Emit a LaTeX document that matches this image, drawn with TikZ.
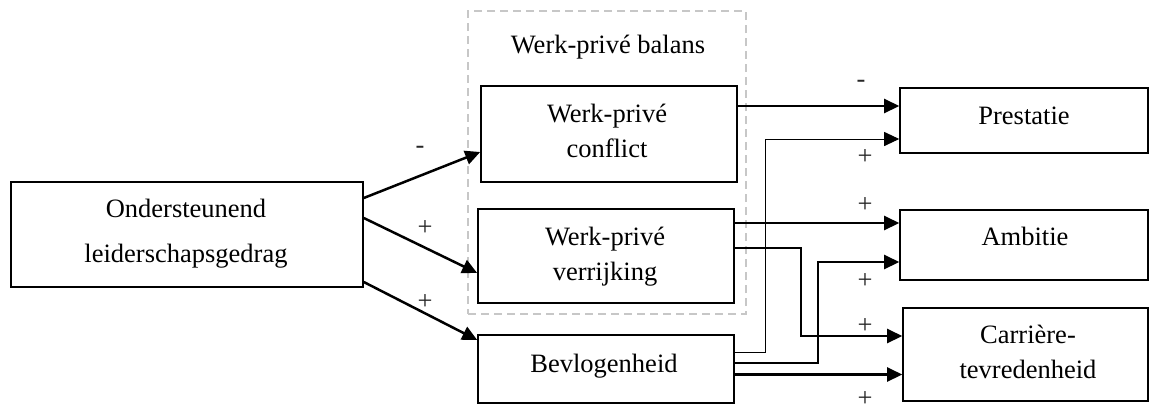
\documentclass[tikz,border=0pt]{standalone}
\usepackage{fontspec}
\setmainfont{Liberation Serif}
\usetikzlibrary{arrows.meta}
\begin{document}
\begin{tikzpicture}[x=1pt,y=-1pt,
  box/.style={draw=black, line width=1.6pt, rectangle, inner sep=0pt},
  txt/.style={anchor=base, inner sep=0pt, font=\fontsize{26.5}{35}\selectfont},
  sgn/.style={anchor=base, inner sep=0pt, text=black!85, font=\fontsize{26.5}{35}\selectfont},
  con/.style={line width=2.5pt, -{Triangle[length=15pt,width=14pt]}},
  thincon/.style={line width=1pt, -{Triangle[length=15pt,width=14pt]}},
  group/.style={draw=black!22, line width=1.5pt, dash pattern=on 8pt off 5pt, rectangle, inner sep=0pt}
]
\useasboundingbox (0,0) rectangle (1149,410);

% group
\node[group, minimum width=278pt, minimum height=303pt] (wpb) at (607,162.5) {};
\node[txt] (wpbt) at (608,53) {Werk-privé balans};

% boxes
\node[box, minimum width=352pt, minimum height=105pt] (lead) at (187,234.5) {};
\node[box, minimum width=256pt, minimum height=96pt] (conf) at (609,134) {};
\node[box, minimum width=256pt, minimum height=94pt] (verr) at (606,256) {};
\node[box, minimum width=256pt, minimum height=68pt] (bevl) at (606,369) {};
\node[box, minimum width=248pt, minimum height=65pt] (pres) at (1024,120.5) {};
\node[box, minimum width=248pt, minimum height=70pt] (ambi) at (1024,245) {};
\node[box, minimum width=245pt, minimum height=93pt] (carr) at (1025.5,354.5) {};

% texts
\node[txt] (lead1) at (186,217) {Ondersteunend};
\node[txt] (lead2) at (186,262) {leiderschapsgedrag};
\node[txt] (conf1) at (607,122) {Werk-privé};
\node[txt] (conf2) at (607,157) {conflict};
\node[txt] (verr1) at (605,245) {Werk-privé};
\node[txt] (verr2) at (605,280) {verrijking};
\node[txt] (bevl1) at (604,372) {Bevlogenheid};
\node[txt] (pres1) at (1024,124) {Prestatie};
\node[txt] (ambi1) at (1025,245) {Ambitie};
\node[txt] (carr1) at (1028,343) {Carrière-};
\node[txt] (carr2) at (1028,378) {tevredenheid};

% left connectors
\draw[con] ([yshift=36.5pt]lead.east) -- ([yshift=-18pt]conf.west);
\draw[con] ([yshift=16.5pt]lead.east) -- ([yshift=-17pt]verr.west);
\draw[con] ([yshift=-47.5pt]lead.east) -- ([yshift=29pt]bevl.west);

% right connectors
\draw[con] ([yshift=28pt]conf.east) -- ([yshift=28pt]conf.east -| pres.west);
\draw[thincon] ([yshift=17pt]bevl.east) -- ++(31,0) |- ([yshift=-18.5pt]pres.west);
\draw[con] ([yshift=33pt]verr.east) -- ([yshift=33pt]verr.east -| ambi.west);
\draw[con] ([yshift=8pt]verr.east) -- ++(66,0) |- ([yshift=18.5pt]carr.west);
\draw[con] ([yshift=6pt]bevl.east) -- ++(83,0) |- ([yshift=-17pt]ambi.west);
\draw[con] ([yshift=-5.5pt]bevl.east) -- ([yshift=-5.5pt]bevl.east -| carr.west);

% signs
\node[sgn] (s1) at (420,153) {-};
\node[sgn] (s2) at (425,235) {+};
\node[sgn] (s3) at (425,309) {+};
\node[sgn] (s4) at (861,87) {-};
\node[sgn] (s5) at (865,164) {+};
\node[sgn] (s6) at (865,212) {+};
\node[sgn] (s7) at (865,288) {+};
\node[sgn] (s8) at (865,333) {+};
\node[sgn] (s9) at (865,406) {+};
\end{tikzpicture}
\end{document}
